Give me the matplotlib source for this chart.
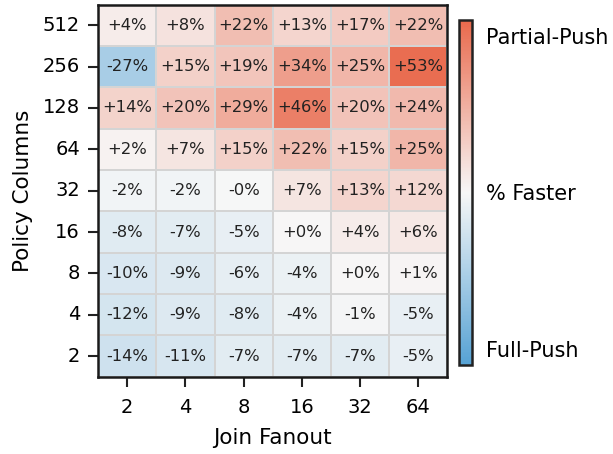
#!/usr/bin/python3

# Heatmap: partial-push vs full-push speedup by join fanout and policy columns

import numpy as np
import matplotlib
matplotlib.use("Agg")
import matplotlib.pyplot as plt
from matplotlib.colors import LinearSegmentedColormap
import seaborn as sns

join_fanout = ["2", "4", "8", "16", "32", "64"]
policy_columns = ["512", "256", "128", "64", "32", "16", "8", "4", "2"]

# percent faster, rows top -> bottom (512 .. 2)
row_512 = [4, 8, 22, 13, 17, 22]
row_256 = [-27, 15, 19, 34, 25, 53]
row_128 = [14, 20, 29, 46, 20, 24]
row_64 = [2, 7, 15, 22, 15, 25]
row_32 = [-2, -2, -0.2, 7, 13, 12]
row_16 = [-8, -7, -5, 0.2, 4, 6]
row_8 = [-10, -9, -6, -4, 0.2, 1]
row_4 = [-12, -9, -8, -4, -1, -5]
row_2 = [-14, -11, -7, -7, -7, -5]


def fmt(v):
    s = "+" if v > 0 else "-"
    return "%s%d%%" % (s, abs(round(v)))


def plot_heatmap():
    data = np.array([row_512, row_256, row_128, row_64, row_32,
                     row_16, row_8, row_4, row_2])
    labels = np.vectorize(fmt)(data)

    cmap = LinearSegmentedColormap.from_list(
        "pp", ["#56a2d4", "#f7f7f7", "#e9694c"])

    fig = plt.figure(figsize=(6.13, 4.54), dpi=100)
    ax = fig.add_axes([0.160, 0.170, 0.570, 0.820])
    cax = fig.add_axes([0.749, 0.196, 0.021, 0.760])

    sns.heatmap(data, ax=ax, cbar_ax=cax, cmap=cmap, vmin=-55, vmax=55,
                annot=labels, fmt="", annot_kws={"fontsize": 11.8, "color": "#222222"},
                linewidths=1.3, linecolor="#d4d4d4",
                xticklabels=join_fanout, yticklabels=policy_columns)

    for sp in ax.spines.values():
        sp.set_visible(True)
        sp.set_linewidth(1.8)
        sp.set_color("#1a1a1a")

    ax.tick_params(axis="both", labelsize=14, length=7, width=1.5,
                   color="#222222", pad=6)
    ax.tick_params(axis="x", pad=8)
    ax.set_yticklabels(policy_columns, rotation=0)
    ax.set_xlabel("Join Fanout", fontsize=15.5, labelpad=8)
    ax.set_ylabel("Policy Columns", fontsize=15.5, labelpad=7)

    cbar = ax.collections[0].colorbar
    cbar.set_ticks([50, 0, -50])
    cbar.set_ticklabels(["Partial-Push", "% Faster", "Full-Push"])
    cbar.ax.tick_params(length=0, labelsize=15, pad=10)
    cbar.outline.set_visible(True)
    cbar.outline.set_linewidth(1.8)
    cbar.outline.set_edgecolor("#222222")

    fig.savefig("out.png", dpi=100)


if __name__ == "__main__":
    plot_heatmap()
